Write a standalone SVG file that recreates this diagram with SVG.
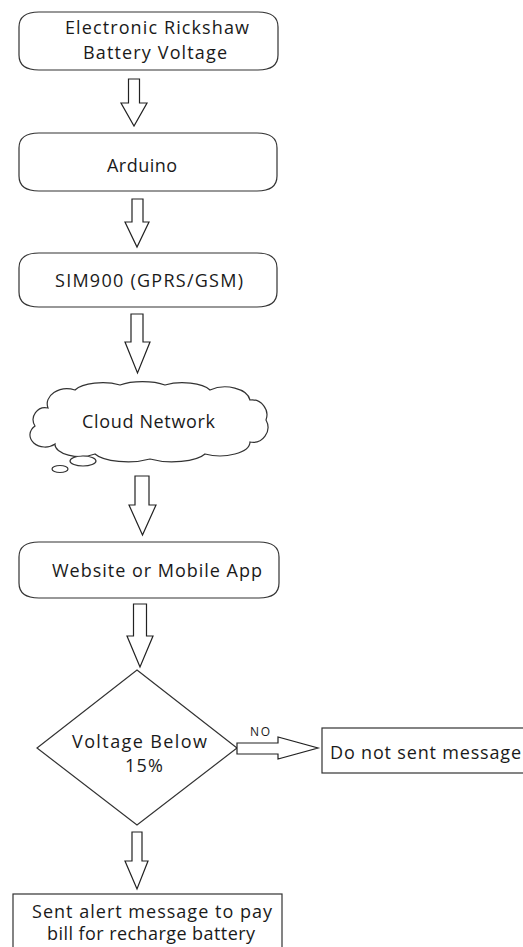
<svg xmlns="http://www.w3.org/2000/svg" width="523" height="947" viewBox="0 0 523 947">
<style>
.shape{fill:#fff;stroke:#333;stroke-width:1.2}
.arrow{fill:#fff;stroke:#222;stroke-width:1.2;stroke-linejoin:miter}
.t{font-family:"Open Sans","Liberation Sans",sans-serif;font-size:18px;fill:#1a1a1a;text-anchor:middle}
.s{font-family:"Open Sans","Liberation Sans",sans-serif;font-size:12px;fill:#1a1a1a;text-anchor:middle}
</style>
<rect width="523" height="947" fill="#fff"/>
<g id="n1">
<path class="shape" d="M39,12 L258,12 Q278,12 278,27 L278,55 Q278,70 258,70 L39,70 Q19,70 19,55 L19,27 Q19,12 39,12 Z"/>
<text class="t" x="157" y="34" textLength="184" lengthAdjust="spacing">Electronic Rickshaw</text>
<text class="t" x="155" y="59" textLength="144" lengthAdjust="spacing">Battery Voltage</text>
</g>
<g id="n2">
<path class="shape" d="M39,133 L257,133 Q277,133 277,148 L277,176 Q277,191 257,191 L39,191 Q19,191 19,176 L19,148 Q19,133 39,133 Z"/>
<text class="t" x="142" y="172" textLength="70" lengthAdjust="spacing">Arduino</text>
</g>
<g id="n3">
<path class="shape" d="M39,253 L257,253 Q277,253 277,268 L277,292 Q277,307 257,307 L39,307 Q19,307 19,292 L19,268 Q19,253 39,253 Z"/>
<text class="t" x="149" y="287" textLength="188" lengthAdjust="spacing">SIM900 (GPRS/GSM)</text>
</g>
<g id="n4">
<path class="shape" d="M48,408 A20,15 0 0 1 75,390 A30,12 0 0 1 120,385 A30,10 0 0 1 165,385 A30,12 0 0 1 210,390 A25,15 0 0 1 250,400 A15,15 0 0 1 266,420 A15,15 0 0 1 250,442 A30,14 0 0 1 205,454 A35,12 0 0 1 150,459 A35,12 0 0 1 95,454 A25,12 0 0 1 55,444 A15,12 0 0 1 35,426 A12,12 0 0 1 48,408 Z"/>
<ellipse class="shape" cx="83" cy="461" rx="13" ry="5"/>
<ellipse class="shape" cx="60" cy="469" rx="8" ry="3.5"/>
<text class="t" x="148.5" y="428" textLength="133" lengthAdjust="spacing">Cloud Network</text>
</g>
<g id="n5">
<path class="shape" d="M39,542 L259,542 Q279,542 279,557 L279,583 Q279,598 259,598 L39,598 Q19,598 19,583 L19,557 Q19,542 39,542 Z"/>
<text class="t" x="157" y="577" textLength="210" lengthAdjust="spacing">Website or Mobile App</text>
</g>
<g id="n6">
<polygon class="shape" points="137,670 237,748 137,825 37,748"/>
<text class="t" x="139.5" y="748" textLength="135" lengthAdjust="spacing">Voltage Below</text>
<text class="t" x="144" y="772" textLength="38" lengthAdjust="spacing">15%</text>
</g>
<g id="n7">
<rect class="shape" x="322" y="728" width="220" height="45"/>
<text class="t" x="330" y="759" style="text-anchor:start" textLength="191" lengthAdjust="spacing">Do not sent message</text>
</g>
<g id="n8">
<rect class="shape" x="13" y="894" width="269" height="70"/>
<text class="t" x="152" y="918" textLength="240" lengthAdjust="spacing">Sent alert message to pay</text>
<text class="t" x="151" y="940" textLength="208" lengthAdjust="spacing">bill for recharge battery</text>
</g>
<g id="connectors">
<polygon class="arrow" points="128.5,79 139.5,79 139.5,103 147,103 134,126 121,103 128.5,103"/>
<polygon class="arrow" points="132,199 143,199 143,222 149,222 137,247 125,222 132,222"/>
<polygon class="arrow" points="131,314 143,314 143,342 150,342 137.5,373 125,342 131,342"/>
<polygon class="arrow" points="135,476 149,476 149,505 156,505 142.5,535 129,505 135,505"/>
<polygon class="arrow" points="133.5,604 146.5,604 146.5,636 153,636 140,667 127,636 133.5,636"/>
<polygon class="arrow" points="132,832 142,832 142,861 148,861 137,889 125,861 132,861"/>
<polygon class="arrow" points="237,743 278,743 278,737 318,748 278,759 278,754 237,754"/>
<text class="s" x="260" y="736" textLength="20" lengthAdjust="spacing">NO</text>
</g>
</svg>
